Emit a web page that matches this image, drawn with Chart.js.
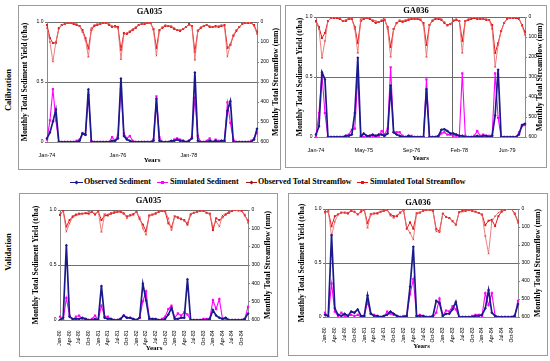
<!DOCTYPE html>
<html><head><meta charset="utf-8">
<script src="https://cdn.jsdelivr.net/npm/chart.js@4/dist/chart.umd.min.js"></script>
<style>
html,body{margin:0;padding:0;background:#fff;}
body{width:550px;height:361px;position:relative;overflow:hidden;font-family:"Liberation Serif",serif;}
.box{position:absolute;border:1px solid #9a9a9a;box-sizing:border-box;}
.box canvas{position:absolute;left:0;top:0;}
.side{position:absolute;font-weight:bold;font-size:8.5px;white-space:nowrap;transform:translate(-50%,-50%) rotate(-90deg);}
.lg{position:absolute;top:177px;font-weight:bold;font-size:8px;white-space:nowrap;line-height:10px;}
.ln{position:absolute;height:1.5px;top:181.5px;}
.mk{position:absolute;width:3px;height:3px;top:181px;}
</style></head>
<body>
<div class="side" style="left:8px;top:90px;">Calibration</div>
<div class="side" style="left:8px;top:252px;">Validation</div>

<div class="box" style="left:18px;top:5px;width:263px;height:165px;"><canvas id="c1" width="261" height="163"></canvas></div>
<div class="box" style="left:285px;top:5px;width:262px;height:163px;"><canvas id="c2" width="260" height="161"></canvas></div>
<div class="box" style="left:19px;top:193px;width:259px;height:164px;"><canvas id="c3" width="257" height="162"></canvas></div>
<div class="box" style="left:288px;top:193px;width:260px;height:163px;"><canvas id="c4" width="258" height="161"></canvas></div>

<div class="ln" style="left:70px;width:13px;background:#1a1a8c;"></div><div class="mk" style="left:75px;background:#1a1a8c;transform:rotate(45deg);"></div>
<div class="lg" style="left:84px;">Observed Sediment</div>
<div class="ln" style="left:157px;width:11px;background:#ff00ff;"></div><div class="mk" style="left:161px;background:#ff00ff;"></div>
<div class="lg" style="left:170px;">Simulated Sediment</div>
<div class="ln" style="left:246px;width:11px;background:#a01010;"></div><div class="mk" style="left:250px;background:#a01010;transform:rotate(45deg);"></div>
<div class="lg" style="left:258px;">Observed Total Streamflow</div>
<div class="ln" style="left:357px;width:11px;background:#ee1111;"></div><div class="mk" style="left:361px;background:#ee1111;"></div>
<div class="lg" style="left:370px;">Simulated Total Streamflow</div>

<script>
// ---------- categories ----------
const MON = ['Jan','Feb','Mar','Apr','May','Jun','Jul','Aug','Sep','Oct','Nov','Dec'];
function months(y0, y1, skip) {
  const out = [];
  for (let y = y0; y <= y1; y++) for (let m = 0; m < 12; m++) {
    const s = MON[m] + '-' + String(y % 100).padStart(2, '0');
    if (!skip || skip.indexOf(s) < 0) out.push(s);
  }
  return out;
}
const cats1 = months(1974, 1979);
const cats2 = months(1974, 1979, ['Dec-77']);
const cats3 = months(1980, 1984);
const cats4 = months(1980, 1984);

// ---------- tick labels ----------
const ticks1 = ['Jan-74', 'Jan-76', 'Jan-78'];
const ticks2 = ['Jan-74', 'May-75', 'Sep-76', 'Feb-78', 'Jun-79'];
const ticksV = ['Jan-80','Apr-80','Jul-80','Oct-80','Jan-81','Apr-81','Jul-81','Oct-81','Jan-82','Apr-82','Jul-82','Oct-82','Jan-83','Apr-83','Jul-83','Oct-83','Jan-84','Apr-84','Jul-84','Oct-84'];
const yTicksLeft = [0, 0.5, 1];
const yTicksRight = [0, 100, 200, 300, 400, 500, 600];
const vLines2 = [22.5, 45.5];

// ---------- GA035 calibration ----------
const obsSed1 = [0.03,0.08,0.17,0.27,0,0,0,0,0,0,0,0.01,0.07,0.06,0.44,0,0,0,0,0,0,0,0.01,0.01,0.03,0.53,0.05,0.02,0.01,0,0,0,0,0,0,0,0.01,0.36,0.01,0,0,0,0.01,0.01,0.02,0.01,0.01,0,0.01,0.03,0.58,0.01,0,0,0,0.01,0,0.01,0,0.01,0.01,0.26,0.34,0,0,0,0,0,0,0,0.02,0.11];
const simSed1 = [0.02,0.18,0.44,0.18,0,0,0,0,0,0,0.01,0.02,0.075,0.06,0.39,0.01,0,0,0,0,0,0,0.04,0.01,0.06,0.44,0.07,0.03,0.05,0.01,0,0,0,0,0,0,0.02,0.38,0.04,0,0,0,0,0.02,0.03,0.02,0.01,0,0.01,0.04,0.37,0.05,0,0,0.01,0.03,0,0.02,0.01,0.01,0.01,0.33,0.16,0.02,0,0,0,0,0,0.01,0.03,0.08];
const obsFlow1 = [30,100,198,100,35,15,10,5,5,5,10,20,50,90,175,30,15,10,10,5,5,10,20,25,30,187,60,55,45,35,25,15,10,5,5,5,40,168,45,25,15,20,20,30,40,40,35,25,15,20,190,40,25,20,15,20,25,25,20,15,20,173,110,65,40,25,10,5,0,5,20,60];
const simFlow1 = [15,80,105,105,30,15,10,5,5,10,15,20,40,80,133,40,20,15,10,5,5,15,25,20,25,140,55,60,50,40,30,15,10,10,5,5,35,130,40,30,20,20,25,35,40,45,35,25,10,20,150,45,30,20,15,25,25,20,25,20,15,130,115,70,45,25,10,5,5,5,15,50];

// ---------- GA036 calibration ----------
const obsSed2 = [0.02,0.09,0.54,0.48,0,0,0,0,0,0,0.01,0.01,0.02,0.2,0.66,0,0.03,0.01,0.01,0.02,0.01,0.02,0.02,0.01,0.03,0.43,0.04,0.02,0.01,0,0,0.01,0,0,0,0,0,0.4,0,0,0,0.01,0.06,0.065,0.05,0.03,0.03,0.02,0.01,0.01,0,0,0,0,0.01,0,0.01,0.01,0,0.01,0.18,0.56,0,0,0,0,0,0,0.02,0.1,0.11];
const simSed2 = [0.01,0.2,0.52,0.2,0,0,0,0,0,0,0.01,0.02,0.06,0.07,0.5,0.01,0,0,0.01,0.01,0,0.01,0.05,0.02,0.07,0.58,0.04,0.04,0.04,0.01,0,0.01,0.01,0,0,0,0,0.48,0,0,0,0,0.03,0.04,0.02,0.02,0.01,0.01,0.01,0.53,0.01,0,0,0.01,0.05,0.01,0.02,0.01,0.01,0.01,0.53,0.16,0,0,0,0,0,0,0.04,0.09,0.1];
const obsFlow2 = [25,60,205,120,20,5,0,0,5,20,15,5,10,60,180,10,5,5,5,15,20,25,15,10,60,200,60,30,15,20,15,10,5,5,5,10,40,200,40,15,5,5,10,25,45,35,15,10,20,180,20,10,5,0,5,5,10,10,15,60,250,140,70,30,10,5,0,0,5,45,90];
const simFlow2 = [20,50,105,80,20,5,5,5,10,20,20,10,10,50,130,20,10,5,10,20,30,25,20,15,50,150,60,30,20,25,20,15,10,10,10,15,30,140,40,20,10,10,15,30,40,35,20,15,20,120,20,15,10,5,10,10,10,15,15,40,180,130,70,30,10,5,5,5,10,40,75];

// ---------- GA035 validation ----------
const obsSed3 = [0,0.02,0.68,0.03,0.01,0.01,0.01,0.02,0.01,0,0,0.01,0,0.31,0.02,0.01,0.01,0,0,0.01,0.04,0.02,0.02,0.01,0,0.02,0.33,0.18,0.01,0.01,0.01,0,0,0.01,0.05,0.11,0.01,0.01,0.02,0.02,0.37,0,0,0,0,0,0,0.01,0.09,0.04,0.02,0.01,0.02,0,0,0,0,0,0.01,0.06];
const simSed3 = [0.03,0,0.2,0.04,0,0.03,0.04,0.01,0.01,0,0.01,0.04,0,0.13,0.03,0.03,0.01,0,0,0.01,0.04,0.02,0.02,0,0,0.02,0.17,0.26,0.02,0.01,0,0,0.01,0.03,0.1,0.13,0.02,0.06,0.04,0.07,0.05,0,0,0,0,0.01,0.01,0.01,0.18,0.1,0.19,0.01,0.01,0,0,0,0,0,0.01,0.12];
const obsFlow3 = [20,5,118,73,40,30,25,20,15,10,10,20,8,120,22,25,15,10,8,5,15,45,25,20,10,40,100,135,30,25,15,8,5,5,45,110,35,45,45,60,70,20,15,10,5,5,15,20,90,63,90,30,20,10,0,0,5,5,25,70];
const simFlow3 = [27,4,90,55,35,25,20,20,18,20,10,25,8,55,30,30,20,15,10,10,20,35,30,25,10,50,80,115,30,25,20,10,5,8,73,95,35,40,50,55,80,25,15,10,5,5,15,20,110,45,55,40,25,15,5,0,0,5,30,58];

// ---------- GA036 validation ----------
const obsSed4 = [0.02,0.01,0.76,0.08,0.02,0.01,0.03,0.01,0.05,0.04,0.07,0.01,0.01,0.2,0.03,0.01,0.01,0,0.01,0.02,0.05,0.03,0.01,0,0,0.01,0.28,0.65,0.01,0.01,0.01,0,0,0.01,0.15,0.13,0.01,0.03,0.03,0.07,0.14,0,0,0,0,0,0.01,0.01,0.02,0.08,0.25,0.04,0.01,0,0,0,0,0,0.01,0.12];
const simSed4 = [0.04,0,0.31,0.05,0.01,0.04,0.01,0.01,0.02,0.01,0.02,0,0.01,0.14,0.03,0.02,0.01,0,0,0.05,0.03,0.02,0.01,0,0.01,0.01,0.21,0.35,0.01,0.02,0.01,0,0,0,0.04,0.17,0.01,0.06,0.05,0.1,0.07,0,0,0,0,0.01,0.02,0.02,0.01,0.22,0.11,0.22,0.01,0,0,0,0,0,0.01,0.15];
const obsFlow4 = [22,9,152,70,30,20,20,20,10,15,30,10,0,105,28,25,20,15,5,5,37,50,35,20,5,105,133,170,22,20,8,5,5,10,124,130,26,44,50,68,87,18,15,10,5,10,15,22,31,150,248,70,40,20,10,5,0,0,30,78];
const simFlow4 = [15,15,96,40,30,20,20,25,10,15,30,15,5,78,30,25,25,15,10,5,30,40,40,20,5,110,74,110,25,20,10,5,5,10,111,124,26,44,50,68,87,18,10,10,5,10,15,22,31,90,65,60,95,40,15,5,0,0,25,70];

// ---------- drawing ----------
const SERIF = '"Liberation Serif", "Times New Roman", serif';
const SANS = '"Liberation Sans", Arial, sans-serif';

const extras = {
  id: 'extras',
  beforeDatasetsDraw(chart, args, opts) {
    if (!opts.vlines) return;
    const {ctx, chartArea} = chart;
    const xs = chart.scales.x;
    ctx.save();
    ctx.strokeStyle = '#666';
    ctx.lineWidth = 1;
    opts.vlines.forEach(v => {
      const px = Math.round(xs.getPixelForValue(v)) + 0.5;
      ctx.beginPath(); ctx.moveTo(px, chartArea.top); ctx.lineTo(px, chartArea.bottom); ctx.stroke();
    });
    ctx.restore();
  },
  afterDraw(chart, args, opts) {
    const {ctx, chartArea} = chart;
    ctx.save();
    ctx.translate(opts.rtX, (chartArea.top + chartArea.bottom) / 2);
    ctx.rotate(-Math.PI / 2);
    ctx.font = 'bold ' + opts.rtSize + 'px ' + SERIF;
    ctx.fillStyle = '#000';
    ctx.textAlign = 'center';
    ctx.textBaseline = 'middle';
    ctx.fillText('Monthly Total Streamflow (mm)', 0, 0);
    ctx.restore();
  }
};

function makeChart(id, c) {
  const labels = c.labels;
  return new Chart(document.getElementById(id), {
    type: 'line',
    data: {
      labels: labels,
      datasets: [
        {label: 'Observed Sediment', data: c.obsSed, yAxisID: 'y', borderColor: '#1a1a8c', backgroundColor: '#1a1a8c',
         borderWidth: 1.7, pointStyle: 'rectRot', pointRadius: 1.5, pointBorderWidth: 0, tension: 0},
        {label: 'Simulated Sediment', data: c.simSed, yAxisID: 'y', borderColor: '#ff00ff', backgroundColor: '#ff00ff',
         borderWidth: 1.1, pointStyle: 'rect', pointRadius: 1.6, pointBorderWidth: 0, tension: 0},
        {label: 'Observed Total Streamflow', data: c.obsFlow, yAxisID: 'y2', borderColor: '#ec7070', backgroundColor: '#d03030',
         borderWidth: 0.9, pointStyle: 'crossRot', pointRadius: 1, pointBorderWidth: 0.7, pointBorderColor: '#d03030', tension: 0},
        {label: 'Simulated Total Streamflow', data: c.simFlow, yAxisID: 'y2', borderColor: '#e81818', backgroundColor: '#e81818',
         borderWidth: 1, pointStyle: 'rect', pointRadius: 1.4, pointBorderWidth: 0, tension: 0}
      ]
    },
    options: {
      responsive: false,
      animation: false,
      events: [],
      layout: {padding: 0},
      plugins: {
        legend: {display: false},
        tooltip: {enabled: false},
        title: {display: true, text: c.title, color: '#000',
          font: {family: SERIF, size: 8.5, weight: 'bold'}, padding: {top: c.g.tpt, bottom: c.g.tpb}},
        extras: {vlines: c.vlines || null, rtX: c.g.rtX, rtSize: 7.8}
      },
      scales: {
        x: {
          type: 'category', offset: false,
          grid: {display: false},
          border: {display: true, color: '#8a8a8a', width: 1},
          ticks: {autoSkip: false, maxRotation: c.rot, minRotation: c.rot, padding: 2.5, color: '#000',
            font: {family: SANS, size: c.rot ? 5 : 5.5},
            callback: function (v, i) { const l = labels[i]; return c.tickSet.indexOf(l) >= 0 ? l : ''; }},
          title: {display: true, text: 'Years', color: '#000', font: {family: SERIF, size: 7, weight: 'bold'},
            padding: {top: 0, bottom: c.g.ypb}},
          afterFit: s => { s.height = c.g.xh; }
        },
        y: {
          position: 'left', min: 0, max: 1,
          afterBuildTicks: s => { s.ticks = yTicksLeft.map(v => ({value: v})); },
          ticks: {color: '#000', padding: 1.5, font: {family: SANS, size: 5}},
          grid: {color: '#6e6e6e', lineWidth: 1, tickLength: 2, drawTicks: true},
          border: {color: '#8a8a8a'},
          title: {display: true, text: 'Monthly Total Sediment Yield (t/ha)', color: '#000',
            font: {family: SERIF, size: 7.7, weight: 'bold'}, padding: {top: c.g.lpt, bottom: 0}},
          afterFit: s => { s.width = c.g.lw; }
        },
        y2: {
          position: 'right', min: 0, max: 600, reverse: true,
          afterBuildTicks: s => { s.ticks = yTicksRight.map(v => ({value: v})); },
          ticks: {color: '#000', padding: 1.5, font: {family: SANS, size: 5}},
          grid: {drawOnChartArea: false, tickLength: 2, color: '#8a8a8a'},
          border: {color: '#8a8a8a'},
          afterFit: s => { s.width = c.g.rw; }
        }
      }
    },
    plugins: [extras]
  });
}

makeChart('c1', {labels: cats1, tickSet: ticks1, obsSed: obsSed1, simSed: simSed1, obsFlow: obsFlow1, simFlow: simFlow1,
  title: 'GA035', rot: 0, g: {tpt: 1, tpb: 4.8, lw: 28, rw: 23, xh: 27, ypb: 4.2, lpt: 1.4, rtX: 257}});
makeChart('c2', {labels: cats2, tickSet: ticks2, obsSed: obsSed2, simSed: simSed2, obsFlow: obsFlow2, simFlow: simFlow2,
  title: 'GA036', rot: 0, vlines: vLines2, g: {tpt: 0, tpb: 0.8, lw: 30, rw: 21, xh: 30, ypb: 4.2, lpt: 9.4, rtX: 254}});
makeChart('c3', {labels: cats3, tickSet: ticksV, obsSed: obsSed3, simSed: simSed3, obsFlow: obsFlow3, simFlow: simFlow3,
  title: 'GA035', rot: 90, g: {tpt: 2, tpb: 3.8, lw: 40, rw: 29, xh: 36, ypb: 3.2, lpt: 11.4, rtX: 248}});
makeChart('c4', {labels: cats4, tickSet: ticksV, obsSed: obsSed4, simSed: simSed4, obsFlow: obsFlow4, simFlow: simFlow4,
  title: 'GA036', rot: 90, g: {tpt: 4, tpb: 0.8, lw: 36, rw: 29, xh: 38, ypb: 4.2, lpt: 8.4, rtX: 249}});
</script>
</body></html>
